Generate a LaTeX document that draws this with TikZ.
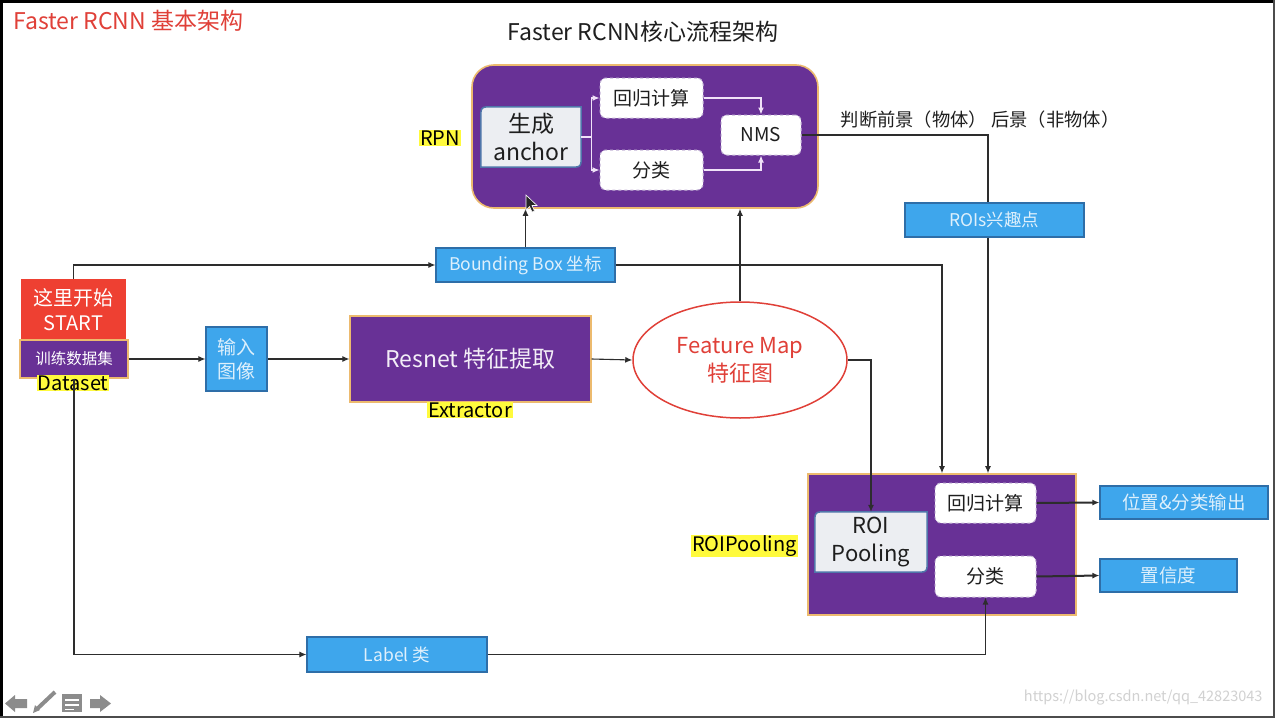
\documentclass[tikz,border=0pt]{standalone}
\usepackage{fontspec}
\setmainfont{Noto Sans CJK SC}
\usetikzlibrary{arrows.meta,shapes.geometric,positioning}
\definecolor{purp}{RGB}{104,49,150}
\definecolor{gold}{RGB}{236,186,110}
\definecolor{boxblue}{RGB}{62,166,236}
\definecolor{boxedge}{RGB}{46,110,168}
\definecolor{boxtext}{RGB}{222,240,252}
\definecolor{startred}{RGB}{238,64,50}
\definecolor{titlered}{RGB}{224,64,56}
\definecolor{hlyellow}{RGB}{255,250,60}
\definecolor{grayfill}{RGB}{236,238,242}
\definecolor{grayedge}{RGB}{80,118,170}
\definecolor{dashcol}{RGB}{196,180,214}
\definecolor{lav}{RGB}{240,226,248}
\definecolor{linegray}{RGB}{45,45,45}
\definecolor{textblack}{RGB}{30,30,30}
\newcommand{\fsz}[2]{\fontsize{#1}{#2}\selectfont}

\begin{document}
\begin{tikzpicture}[x=1pt,y=-1pt,>={Latex[length=7pt,width=6pt]},
    line/.style={draw=linegray,line width=1.1pt},
    wline/.style={draw=lav,line width=1.2pt},
    blue box/.style={rectangle,fill=boxblue,draw=boxedge,line width=1.2pt,
      text=boxtext,inner sep=0pt,align=center,font=\fsz{17.5}{21}},
    purple box/.style={rectangle,fill=purp,draw=gold,line width=1.2pt,
      text=white,inner sep=0pt,align=center},
    dash box/.style={rectangle,rounded corners=6pt,fill=white,draw=dashcol,
      dashed,line width=1pt,inner sep=0pt,text=textblack,font=\fsz{19}{23}},
    gray box/.style={rectangle,inner sep=0pt,text=textblack,align=center,
      font=\fsz{22}{27}},
    tag/.style={fill=hlyellow,inner sep=1pt,text=black,font=\fsz{20}{22}}]

  \useasboundingbox (0,0) rectangle (1275,718);
  \fill[white] (0,0) rectangle (1275,718);

  %% titles
  \node[anchor=west,text=titlered,font=\fsz{23}{27}] (T1) at (10,21) {Faster RCNN 基本架构};
  \node[text=textblack,font=\fsz{23}{27}] (T2) at (643,32) {Faster RCNN核心流程架构};

  %% RPN
  \node[purple box,rounded corners=22pt,line width=1.6pt,minimum width=346pt,
    minimum height=143pt] (RPN) at (645,136.5) {};
  \node[tag] (RPNL) at (440,138) {RPN};
  \node[gray box,minimum width=100pt,minimum height=60pt] (GA) at (531,137) {};
  \node[dash box,minimum width=103pt,minimum height=40pt] (RG) at (651.5,98) {回归计算};
  \node[dash box,minimum width=103pt,minimum height=40pt] (CL) at (651.5,170) {分类};
  \node[dash box,minimum width=80pt,minimum height=40pt] (NMS) at (761,135) {NMS};
  \node[text=textblack,font=\fsz{18.3}{22}] (JT) at (980,120) {判断前景（物体） 后景（非物体）};
  \node[blue box,minimum width=179pt,minimum height=34pt] (ROIS) at (994.5,220) {ROIs兴趣点};
  \node[blue box,minimum width=179pt,minimum height=34pt] (BB) at (525.5,265) {Bounding Box 坐标};

  %% input side
  \node[rectangle,fill=startred,text=white,inner sep=0pt,align=center,
    font=\fsz{20}{25},minimum width=105pt,minimum height=61pt] (ST) at (73.5,309.5) {这里开始\\START};
  \node[purple box,minimum width=108pt,minimum height=38pt,font=\fsz{15.5}{18}] (DS) at (74,359) {训练数据集};
  \node[tag] (DSL) at (73,383) {Dataset};
  \node[blue box,minimum width=61pt,minimum height=64pt,font=\fsz{19}{24}] (IN) at (236.5,359) {输入\\图像};
  \node[purple box,minimum width=241pt,minimum height=86pt,font=\fsz{23}{27},
    text=white!92!purp] (RN) at (470.5,359) {Resnet 特征提取};
  \node[tag] (EXL) at (470,410) {Extractor};
  \node[ellipse,draw=titlered,line width=1.5pt,fill=white,text=titlered,
    inner sep=0pt,align=center,font=\fsz{22}{28},minimum width=214pt,
    minimum height=116pt] (FM) at (740,360) {Feature Map\\特征图};

  %% ROI pooling
  \node[purple box,line width=1.6pt,minimum width=268pt,minimum height=141pt] (ROI) at (942,544.5) {};
  \node[tag] (ROIL) at (744.5,546) {ROIPooling};
  \node[gray box,minimum width=112pt,minimum height=60pt] (RP) at (871,542) {};
  \node[dash box,minimum width=101pt,minimum height=40pt] (RG2) at (985.5,503) {回归计算};
  \node[dash box,minimum width=101pt,minimum height=41pt] (CL2) at (985.5,576.5) {分类};
  \node[blue box,minimum width=168pt,minimum height=33pt,font=\fsz{18.5}{22}] (O1) at (1184,502.5) {位置\&分类输出};
  \node[blue box,minimum width=137pt,minimum height=33pt,font=\fsz{18.5}{22}] (O2) at (1168.5,575.5) {置信度};
  \node[blue box,minimum width=180pt,minimum height=35pt] (LB) at (397,654.5) {Label 类};

  %% gray boxes with two round corners
  \foreach \n in {GA,RP}
    \draw[draw=grayedge,fill=grayfill,line width=1.5pt]
      (\n.south west) -- ([yshift=-12pt]\n.north west)
      .. controls (\n.north west) .. ([xshift=12pt]\n.north west)
      -- (\n.north east) -- ([yshift=12pt]\n.south east)
      .. controls (\n.south east) .. ([xshift=-12pt]\n.south east) -- cycle;
  \node[text=textblack,align=center,font=\fsz{23}{28}] at (GA) {生成\\anchor};
  \node[text=textblack,align=center,font=\fsz{22}{28}] at (RP) {ROI\\Pooling};

  %% connectors inside RPN
  \draw[wline] (GA.east) -- ++(10,0) coordinate (GAJ);
  \draw[wline,->] (GAJ) |- (RG.west);
  \draw[wline,->] (GAJ) |- (CL.west);
  \draw[wline,->] (RG.east) -| (NMS.north);
  \draw[wline,->] (CL.east) -| (NMS.south);

  %% connectors
  \draw[line,->] (ST.north) |- (BB.west);
  \draw[line,->] (BB.north) -- (BB.north |- RPN.south);
  \draw[line,->] (BB.east) -| (ROI.north);
  \draw[line,->] (FM.north) -- (FM.north |- RPN.south);
  \draw[line] (NMS.east) -| ([xshift=-6.5pt]ROIS.north);
  \draw[line,->] ([xshift=-6.5pt]ROIS.south) -- ([xshift=46pt]ROI.north);
  \draw[line,->] (FM.east) -| (RP.north);
  \draw[line,->] (DS.east) -- (IN.west);
  \draw[line,->] (IN.east) -- (RN.west);
  \draw[line,->] (RN.east) -- (FM.west);
  \draw[line,->] (DS.south) |- (LB.west);
  \draw[line,->] (LB.east) -| (CL2.south);
  \draw[line,->,line width=2pt] (RG2.east) -- (O1.west);
  \draw[line,->,line width=2pt] (CL2.east) -- (O2.west);

  %% cursor
  \draw[fill=black!85,draw=white,line width=0.6pt] (526,195) -- (526,210) -- (529.5,206.5)
    -- (532,212) -- (534.5,211) -- (532,205.5) -- (537,205.5) -- cycle;

  %% watermark and slide controls
  \node[anchor=east,text=black!18,font=\fsz{14.5}{17}] (WM) at (1266,698) {https://blog.csdn.net/qq\_42823043};
  \fill[black!45] (5,703.5) -- (15,695) -- (15,699) -- (27,699) -- (27,708) -- (15,708) -- (15,712) -- cycle;
  \draw[black!45,line width=4pt] (37,709) -- (55,692);
  \fill[black!45] (33,713) -- (35,705) -- (40,710) -- cycle;
  \fill[black!45] (62,694) rectangle (82,712);
  \draw[white,line width=1.5pt] (65,700) -- (79,700) (65,705) -- (79,705) (65,709.5) -- (74,709.5);
  \fill[black!45] (90,699) -- (100,699) -- (100,695) -- (111,703.5) -- (100,712) -- (100,708) -- (90,708) -- cycle;

  %% frame
  \fill[black] (0,0) rectangle (1275,3);
  \fill[black] (0,0) rectangle (3,718);
  \fill[black!70] (0,715.5) rectangle (1275,718);
  \fill[black!70] (1272.5,0) rectangle (1275,718);
\end{tikzpicture}
\end{document}
